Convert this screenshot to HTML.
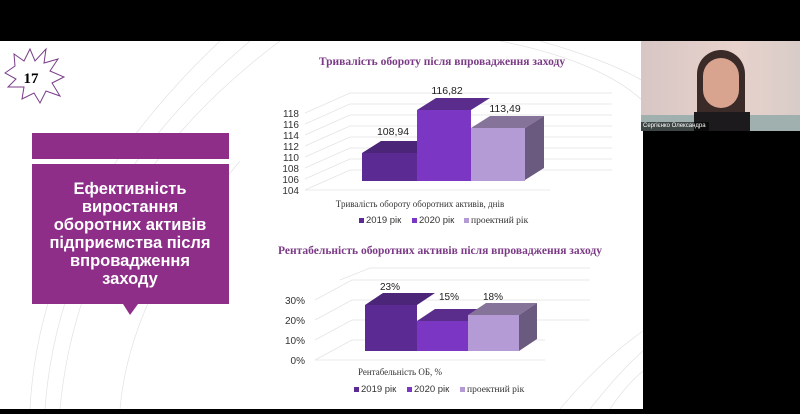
<!DOCTYPE html><html><head><meta charset="utf-8"><style>
body{margin:0;width:800px;height:414px;background:#000;position:relative;overflow:hidden;font-family:"Liberation Sans",sans-serif}
.a{position:absolute}
</style></head><body>
<div class="a" style="left:0;top:41px;width:643px;height:368px;background:#fff"></div>
<svg class="a" style="left:0;top:41px" width="643" height="368">
<g fill="none" stroke="#e2e2e2" stroke-width="0.7">
<path d="M60 368 Q80 150 280 0"/><path d="M45 368 Q60 160 250 0"/><path d="M30 368 Q40 170 220 0"/>
<path d="M120 368 Q130 250 240 120"/><path d="M500 0 Q600 20 643 60"/><path d="M540 0 Q610 20 643 40"/>
<path d="M560 368 Q600 320 643 290"/><path d="M590 368 Q620 330 643 310"/><path d="M610 368 Q625 345 643 330"/>
</g>
<polygon points="5,32 15,25 14,13 24,20 30,8 35,20 46,8 44,22 58,18 50,30 64,36 52,42 60,55 46,50 40,62 34,52 22,58 24,46 8,46 16,38" fill="#fff" stroke="#7a3d8a" stroke-width="1"/>
<text x="31" y="42" font-family="Liberation Serif" font-weight="bold" font-size="15" text-anchor="middle">17</text>
<rect x="32" y="92" width="197" height="26" fill="#8e2e88"/>
<rect x="32" y="123" width="197" height="140" fill="#8e2e88"/>
<polygon points="123,263 138,263 130,274" fill="#8e2e88"/>
<g fill="#fff" font-weight="bold" font-size="16.5" text-anchor="middle">
<text x="130" y="153">Ефективність</text><text x="130" y="171">виростання</text><text x="130" y="189">оборотних активів</text><text x="130" y="207">підприємства після</text><text x="130" y="225">впровадження</text><text x="130" y="243">заходу</text></g>
</svg>
<svg class="a" style="left:0;top:0" width="643" height="414">
<text x="442" y="65" font-family="Liberation Serif" font-weight="bold" font-size="11.5" fill="#7b3a86" text-anchor="middle">Тривалість обороту після впровадження заходу</text>
<g stroke="#e4e4e4" stroke-width="0.8" fill="none">
<path d="M305 190 L350 170 L612 170"/><path d="M305 179 L350 159 L612 159"/><path d="M305 168 L350 148 L612 148"/><path d="M305 157 L350 137 L612 137"/><path d="M305 146 L350 126 L612 126"/><path d="M305 135 L350 115 L612 115"/><path d="M305 124 L350 104 L612 104"/><path d="M305 113 L350 93 L612 93"/>
<path d="M305 190 L550 190"/></g>
<g font-size="10" fill="#333" text-anchor="end">
<text x="299" y="117">118</text><text x="299" y="128">116</text><text x="299" y="139">114</text><text x="299" y="150">112</text><text x="299" y="161">110</text><text x="299" y="172">108</text><text x="299" y="183">106</text><text x="299" y="194">104</text></g>
<polygon points="362,153 381,141 436,141 417,153" fill="#4b2577"/>
<rect x="362" y="153" width="55" height="28" fill="#5b2a93"/>
<polygon points="417,110 436,98 490,98 471,110" fill="#5a2d8c"/>
<rect x="417" y="110" width="54" height="71" fill="#7b36c4"/>
<polygon points="471,128 490,116 544,116 525,128" fill="#86739a"/>
<polygon points="525,128 544,116 544,168 525,180" fill="#6a5a80"/>
<rect x="471" y="128" width="54" height="53" fill="#b49bd6"/>
<g font-size="10.5" fill="#222" text-anchor="middle"><text x="393" y="135">108,94</text><text x="447" y="94">116,82</text><text x="505" y="112">113,49</text></g>
<text x="420" y="207" font-family="Liberation Serif" font-size="9" fill="#333" text-anchor="middle">Тривалість обороту оборотних активів, днів</text>
<g font-size="9.5" fill="#333"><rect x="359" y="218" width="5" height="5" fill="#5b2a93"/><text x="366" y="223">2019 рік</text>
<rect x="412" y="218" width="5" height="5" fill="#7b36c4"/><text x="419" y="223">2020 рік</text>
<rect x="464" y="218" width="5" height="5" fill="#b49bd6"/><text x="471" y="223" font-family="Liberation Serif">проектний рік</text></g>

<text x="440" y="254" font-family="Liberation Serif" font-weight="bold" font-size="11.5" fill="#7b3a86" text-anchor="middle">Рентабельність оборотних активів після впровадження заходу</text>
<g stroke="#e4e4e4" stroke-width="0.8" fill="none">
<path d="M315 360 L352 340 L545 340"/><path d="M315 340 L352 320 L590 320"/><path d="M315 320 L352 300 L590 300"/><path d="M315 300 L352 280 L590 280"/><path d="M340 280 L370 268 L590 268"/><path d="M315 360 L545 360"/></g>
<g font-size="10" fill="#333" text-anchor="end"><text x="305" y="304">30%</text><text x="305" y="324">20%</text><text x="305" y="344">10%</text><text x="305" y="364">0%</text></g>
<polygon points="365,305 383,293 435,293 417,305" fill="#4b2577"/>
<rect x="365" y="305" width="52" height="46" fill="#5b2a93"/>
<polygon points="417,321 435,309 486,309 468,321" fill="#5a2d8c"/>
<rect x="417" y="321" width="51" height="30" fill="#7b36c4"/>
<polygon points="468,315 486,303 537,303 519,315" fill="#86739a"/>
<polygon points="519,315 537,303 537,339 519,351" fill="#6a5a80"/>
<rect x="468" y="315" width="51" height="36" fill="#b49bd6"/>
<g font-size="10" fill="#222" text-anchor="middle"><text x="390" y="290">23%</text><text x="449" y="300">15%</text><text x="493" y="300">18%</text></g>
<text x="400" y="375" font-family="Liberation Serif" font-size="9" fill="#333" text-anchor="middle">Рентабельність ОБ, %</text>
<g font-size="9.5" fill="#333"><rect x="354" y="387" width="5" height="5" fill="#5b2a93"/><text x="361" y="392">2019 рік</text>
<rect x="407" y="387" width="5" height="5" fill="#7b36c4"/><text x="414" y="392">2020 рік</text>
<rect x="460" y="387" width="5" height="5" fill="#b49bd6"/><text x="467" y="392" font-family="Liberation Serif">проектний рік</text></g>
</svg>
<div class="a" style="left:641px;top:41px;width:159px;height:90px;background:linear-gradient(90deg,#d7c6c4,#e8d2cc 60%,#d8ccc8)"></div>
<div class="a" style="left:641px;top:115px;width:159px;height:16px;background:#9fb0ae"></div>
<div class="a" style="left:697px;top:50px;width:48px;height:81px;border-radius:24px 24px 4px 4px;background:#3a2a28"></div>
<div class="a" style="left:703px;top:58px;width:36px;height:50px;border-radius:18px;background:#d9a48f"></div>
<div class="a" style="left:694px;top:112px;width:56px;height:19px;background:#1c1a1c"></div>
<div class="a" style="left:641px;top:122px;width:66px;height:9px;background:rgba(0,0,0,.6);color:#fff;font-size:6px;line-height:9px;padding-left:2px;white-space:nowrap;overflow:hidden">Сергієнко Олександра</div>
</body></html>
